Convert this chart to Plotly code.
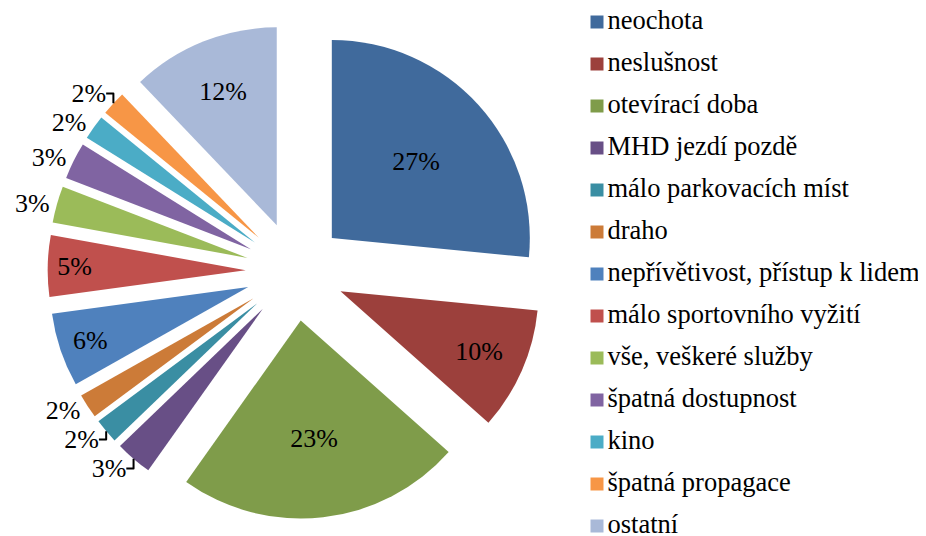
import plotly.graph_objects as go

categories = ["neochota", "neslušnost", "otevírací doba", "MHD jezdí pozdě",
              "málo parkovacích míst", "draho", "nepřívětivost, přístup k lidem",
              "málo sportovního vyžití", "vše, veškeré služby", "špatná dostupnost",
              "kino", "špatná propagace", "ostatní"]
values = [26.5, 10.0, 23.2, 3.0, 2.0, 2.0, 6.0, 5.0, 3.0, 3.0, 2.0, 2.0, 12.1]
colors = ["#406A9C", "#9C403C", "#7F9C4A", "#684F86", "#3A8EA3", "#CC7B38",
          "#4F81BD", "#C0504D", "#9BBB59", "#8064A2", "#4BACC6", "#F79646", "#A9B9D8"]
label_pos = ["inside", "inside", "inside", "outside", "outside", "outside",
             "inside", "inside", "outside", "outside", "outside", "outside", "inside"]

FONT = "Liberation Serif"
W, H = 926, 536
OFF = 8  # page body margin offset

fig = go.Figure()
fig.add_trace(go.Pie(
    labels=categories, values=values, sort=False, direction="clockwise", rotation=0,
    marker=dict(colors=colors, line=dict(width=0)),
    pull=[0.25] * len(values),
    texttemplate="%{percent:.0%}", textposition=label_pos,
    insidetextorientation="horizontal",
    textfont=dict(family=FONT, size=26, color="black"),
    outsidetextfont=dict(family=FONT, size=26, color="black"),
    insidetextfont=dict(family=FONT, size=26, color="black"),
    domain=dict(x=[0.0428, 0.5774], y=[0.0470, 0.9705]),
    showlegend=False, hoverinfo="label+percent", automargin=False,
))

# legend drawn as a scatter on hidden axes (one row per category)
rows = list(range(len(categories)))
fig.add_trace(go.Scatter(
    x=[597] * len(categories), y=rows, mode="markers",
    marker=dict(symbol="square", size=13, color=colors, line=dict(width=0)),
    hoverinfo="skip", showlegend=False, cliponaxis=False,
))
fig.add_trace(go.Scatter(
    x=[607.5] * len(categories), y=rows, mode="text", text=categories,
    textposition="middle right",
    textfont=dict(family=FONT, size=26.5, color="black"),
    hoverinfo="skip", showlegend=False, cliponaxis=False,
))

step = 42.0
first = 22.0
fig.update_layout(
    width=W, height=H,
    font=dict(family=FONT, size=24, color="black"),
    margin=dict(l=0, r=0, t=0, b=0),
    paper_bgcolor="white", plot_bgcolor="rgba(0,0,0,0)",
    xaxis=dict(visible=False, range=[OFF, W + OFF], domain=[0, 1], fixedrange=True),
    yaxis=dict(visible=False, range=[(H + OFF - first) / step, (OFF - first) / step],
               domain=[0, 1], fixedrange=True),
    showlegend=False,
)

fig.write_html("out.html")
